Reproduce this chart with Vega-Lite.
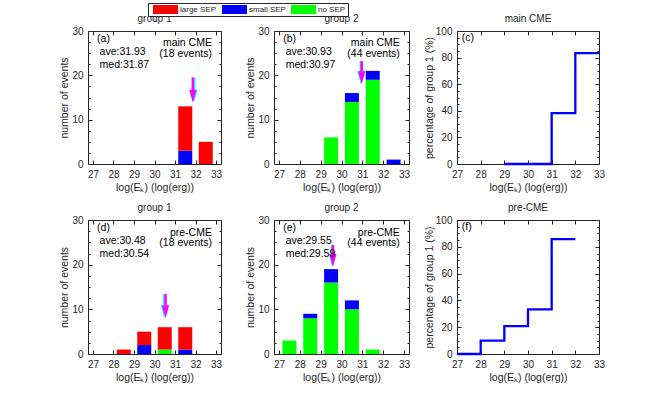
{
"$schema": "https://vega.github.io/schema/vega-lite/v6.json",
"padding": {"left": 59, "top": 2, "right": 5, "bottom": 5},
"background": "white",
"config": {
 "view": {"stroke": "#262626", "strokeWidth": 1},
 "axis": {"domain": false, "grid": false, "tickColor": "#262626", "tickWidth": 1, "labelColor": "#262626", "labelFont": "Liberation Sans", "labelFontSize": 10, "titleColor": "#262626", "titleFont": "Liberation Sans", "titleFontSize": 10.5, "titleFontWeight": "normal", "labelFlush": false, "labelOverlap": false},
 "title": {"font": "Liberation Sans", "fontSize": 10, "fontWeight": "normal", "color": "#262626", "offset": 2}
},
"datasets": {
 "sepRank": [
  {"sep":"no SEP","rank":1},
  {"sep":"small SEP","rank":2},
  {"sep":"large SEP","rank":3}
 ],
 "bars": [
  {"panel":"a","logEk":31.5,"sep":"small SEP","n":3},
  {"panel":"a","logEk":31.5,"sep":"large SEP","n":10},
  {"panel":"a","logEk":32.5,"sep":"large SEP","n":5},
  {"panel":"b","logEk":29.5,"sep":"no SEP","n":6},
  {"panel":"b","logEk":30.5,"sep":"no SEP","n":14},
  {"panel":"b","logEk":30.5,"sep":"small SEP","n":2},
  {"panel":"b","logEk":31.5,"sep":"no SEP","n":19},
  {"panel":"b","logEk":31.5,"sep":"small SEP","n":2},
  {"panel":"b","logEk":32.5,"sep":"small SEP","n":1},
  {"panel":"d","logEk":28.5,"sep":"large SEP","n":1},
  {"panel":"d","logEk":29.5,"sep":"small SEP","n":2},
  {"panel":"d","logEk":29.5,"sep":"large SEP","n":3},
  {"panel":"d","logEk":30.5,"sep":"no SEP","n":1},
  {"panel":"d","logEk":30.5,"sep":"large SEP","n":5},
  {"panel":"d","logEk":31.5,"sep":"small SEP","n":1},
  {"panel":"d","logEk":31.5,"sep":"large SEP","n":5},
  {"panel":"e","logEk":27.5,"sep":"no SEP","n":3},
  {"panel":"e","logEk":28.5,"sep":"no SEP","n":8},
  {"panel":"e","logEk":28.5,"sep":"small SEP","n":1},
  {"panel":"e","logEk":29.5,"sep":"no SEP","n":16},
  {"panel":"e","logEk":29.5,"sep":"small SEP","n":3},
  {"panel":"e","logEk":30.5,"sep":"no SEP","n":10},
  {"panel":"e","logEk":30.5,"sep":"small SEP","n":2},
  {"panel":"e","logEk":31.5,"sep":"no SEP","n":1}
 ],
 "arrows": [
  {"panel":"a","stat":"ave","x":31.93,"top":19.5,"tip":13.8},
  {"panel":"a","stat":"med","x":31.87,"top":19.5,"tip":13.8},
  {"panel":"b","stat":"ave","x":30.93,"top":23.2,"tip":18},
  {"panel":"b","stat":"med","x":30.97,"top":23.2,"tip":18},
  {"panel":"d","stat":"ave","x":30.48,"top":13.4,"tip":8},
  {"panel":"d","stat":"med","x":30.54,"top":13.4,"tip":8},
  {"panel":"e","stat":"ave","x":29.55,"top":24.4,"tip":19.5},
  {"panel":"e","stat":"med","x":29.59,"top":24.4,"tip":19.5}
 ],
 "notesL": [
  {"panel":"a","x":27.2,"y":28.3,"text":"(a)"},
  {"panel":"a","x":27.32,"y":25.2,"text":"ave:31.93"},
  {"panel":"a","x":27.32,"y":22.4,"text":"med:31.87"},
  {"panel":"b","x":27.2,"y":28.3,"text":"(b)"},
  {"panel":"b","x":27.32,"y":25.2,"text":"ave:30.93"},
  {"panel":"b","x":27.32,"y":22.4,"text":"med:30.97"},
  {"panel":"d","x":27.2,"y":28.3,"text":"(d)"},
  {"panel":"d","x":27.32,"y":25.2,"text":"ave:30.48"},
  {"panel":"d","x":27.32,"y":22.4,"text":"med:30.54"},
  {"panel":"e","x":27.2,"y":28.3,"text":"(e)"},
  {"panel":"e","x":27.32,"y":25.2,"text":"ave:29.55"},
  {"panel":"e","x":27.32,"y":22.4,"text":"med:29.59"},
  {"panel":"c","x":27.2,"y":94.5,"text":"(c)"},
  {"panel":"f","x":27.2,"y":94.5,"text":"(f)"}
 ],
 "notesR": [
  {"panel":"a","x":32.8,"y":27.2,"text":"main CME"},
  {"panel":"a","x":32.8,"y":24.8,"text":"(18 events)"},
  {"panel":"b","x":32.8,"y":27.2,"text":"main CME"},
  {"panel":"b","x":32.8,"y":24.8,"text":"(44 events)"},
  {"panel":"d","x":32.8,"y":27.2,"text":"pre-CME"},
  {"panel":"d","x":32.8,"y":24.8,"text":"(18 events)"},
  {"panel":"e","x":32.8,"y":27.2,"text":"pre-CME"},
  {"panel":"e","x":32.8,"y":24.8,"text":"(44 events)"}
 ],
 "pct": [
  {"panel":"c","logEk":29,"pct":0},
  {"panel":"c","logEk":30,"pct":0},
  {"panel":"c","logEk":31,"pct":38.2},
  {"panel":"c","logEk":32,"pct":83.3},
  {"panel":"c","logEk":33,"pct":83.3},
  {"panel":"f","logEk":27,"pct":0},
  {"panel":"f","logEk":28,"pct":10},
  {"panel":"f","logEk":29,"pct":20.8},
  {"panel":"f","logEk":30,"pct":33.3},
  {"panel":"f","logEk":31,"pct":85.7},
  {"panel":"f","logEk":32,"pct":85.7}
 ]
},
"concat": [
 {
  "width": 133, "height": 133, "title": {"text": "group 1"},
  "layer": [
   {"layer": [
    {"data": {"name": "bars"}, "transform": [{"filter": "datum.panel === 'a'"}, {"lookup": "sep", "from": {"data": {"name": "sepRank"}, "key": "sep", "fields": ["rank"]}}],
     "mark": {"type": "bar", "size": 14},
     "encoding": {
      "x": {"field": "logEk", "type": "quantitative", "scale": {"domain": [27,33], "nice": false, "zero": false}, "axis": {"orient": "bottom", "values": [27,28,29,30,31,32,33], "tickCount": 100, "format": "d", "tickSize": -4, "labelPadding": 9, "labelOverlap": false, "title": "log(E\u2096) (log(erg))", "titlePadding": 3}},
      "y": {"field": "n", "type": "quantitative", "stack": "zero", "scale": {"domain": [0,30], "nice": false}, "axis": {"orient": "left", "values": [0,2.5,5,7.5,10,12.5,15,17.5,20,22.5,25,27.5,30], "tickCount": 100, "format": "d", "tickSize": {"condition": {"test": "datum.value % 10 === 0", "value": -4}, "value": -2}, "labelExpr": "datum.value % 10 === 0 ? datum.label : ''", "labelPadding": 9, "labelOverlap": false, "title": "number of events", "titlePadding": 2}},
      "order": {"field": "rank", "type": "quantitative", "sort": "ascending"},
      "color": {"field": "sep", "type": "nominal", "sort": ["large SEP","small SEP","no SEP"], "scale": {"domain": ["large SEP","small SEP","no SEP"], "range": ["#ff0000","#0000ff","#00ff00"]},
       "legend": {"title": null, "orient": "none", "legendX": 60, "legendY": -28, "direction": "horizontal", "symbolType": "M-0.333,-1H5.222V1H-0.333Z", "symbolSize": 81, "symbolStrokeWidth": 0, "symbolOpacity": 1, "labelFont": "Liberation Sans", "labelFontSize": 8, "labelColor": "#262626", "labelOffset": 21, "columnPadding": 2, "padding": 2, "strokeColor": "#262626", "fillColor": "#ffffff"}}
     }},
    {"data": {"name": "arrows"}, "transform": [{"filter": "datum.panel === 'a'"}],
     "mark": {"type": "rule", "strokeWidth": 2.5, "y2Offset": -8},
     "encoding": {
      "x": {"field": "x", "type": "quantitative", "scale": {"domain": [27,33], "nice": false, "zero": false}},
      "y": {"field": "top", "type": "quantitative", "scale": {"domain": [0,30], "nice": false}},
      "y2": {"field": "tip"},
      "stroke": {"field": "stat", "type": "nominal", "scale": {"domain": ["ave","med"], "range": ["#00ffff","#ff00ff"]}, "legend": null}
     }},
    {"data": {"name": "arrows"}, "transform": [{"filter": "datum.panel === 'a'"}],
     "mark": {"type": "point", "shape": "M-0.55,-2H0.55L0,0Z", "size": 169, "filled": true, "opacity": 1, "strokeWidth": 0},
     "encoding": {
      "x": {"field": "x", "type": "quantitative", "scale": {"domain": [27,33], "nice": false, "zero": false}},
      "y": {"field": "tip", "type": "quantitative", "scale": {"domain": [0,30], "nice": false}},
      "fill": {"field": "stat", "type": "nominal", "scale": {"domain": ["ave","med"], "range": ["#00ffff","#ff00ff"]}, "legend": null}
     }},
    {"data": {"name": "notesL"}, "transform": [{"filter": "datum.panel === 'a'"}],
     "mark": {"type": "text", "align": "left", "baseline": "middle", "font": "Liberation Sans", "fontSize": 10.5, "color": "#000000"},
     "encoding": {
      "x": {"field": "x", "type": "quantitative", "scale": {"domain": [27,33], "nice": false, "zero": false}},
      "y": {"field": "y", "type": "quantitative", "scale": {"domain": [0,30], "nice": false}},
      "text": {"field": "text"}
     }},
    {"data": {"name": "notesR"}, "transform": [{"filter": "datum.panel === 'a'"}],
     "mark": {"type": "text", "align": "right", "baseline": "middle", "font": "Liberation Sans", "fontSize": 10.5, "color": "#000000"},
     "encoding": {
      "x": {"field": "x", "type": "quantitative", "scale": {"domain": [27,33], "nice": false, "zero": false}},
      "y": {"field": "y", "type": "quantitative", "scale": {"domain": [0,30], "nice": false}},
      "text": {"field": "text"}
     }}
   ]},
   {"data": {"name": "bars"}, "transform": [{"filter": "datum.panel === 'a'"}],
    "mark": {"type": "point", "opacity": 0},
    "encoding": {
     "x": {"field": "logEk", "type": "quantitative", "scale": {"domain": [27,33], "nice": false, "zero": false}, "axis": {"orient": "top", "values": [27,28,29,30,31,32,33], "tickCount": 100, "tickSize": -4, "labels": false, "title": null}},
     "y": {"field": "n", "type": "quantitative", "scale": {"domain": [0,30], "nice": false}, "axis": {"orient": "right", "values": [0,2.5,5,7.5,10,12.5,15,17.5,20,22.5,25,27.5,30], "tickCount": 100, "tickSize": {"condition": {"test": "datum.value % 10 === 0", "value": -4}, "value": -2}, "labels": false, "title": null}}
    }}
  ],
  "resolve": {"axis": {"x": "independent", "y": "independent"}}
 },
 {"width": 53, "height": 10, "data": {"values": [{"s": 0}]}, "mark": {"type": "point", "opacity": 0}, "encoding": {}, "view": {"stroke": null}},
 {
  "width": 135, "height": 133, "title": {"text": "group 2"},
  "layer": [
   {"layer": [
    {"data": {"name": "bars"}, "transform": [{"filter": "datum.panel === 'b'"}, {"lookup": "sep", "from": {"data": {"name": "sepRank"}, "key": "sep", "fields": ["rank"]}}],
     "mark": {"type": "bar", "size": 14},
     "encoding": {
      "x": {"field": "logEk", "type": "quantitative", "scale": {"domain": [27,33], "nice": false, "zero": false}, "axis": {"orient": "bottom", "values": [27,28,29,30,31,32,33], "tickCount": 100, "format": "d", "tickSize": -4, "labelPadding": 9, "labelOverlap": false, "title": "log(E\u2096) (log(erg))", "titlePadding": 3}},
      "y": {"field": "n", "type": "quantitative", "stack": "zero", "scale": {"domain": [0,30], "nice": false}, "axis": {"orient": "left", "values": [0,2.5,5,7.5,10,12.5,15,17.5,20,22.5,25,27.5,30], "tickCount": 100, "format": "d", "tickSize": {"condition": {"test": "datum.value % 10 === 0", "value": -4}, "value": -2}, "labelExpr": "datum.value % 10 === 0 ? datum.label : ''", "labelPadding": 9, "labelOverlap": false, "title": "number of events", "titlePadding": 2}},
      "order": {"field": "rank", "type": "quantitative", "sort": "ascending"},
      "color": {"field": "sep", "type": "nominal", "sort": ["large SEP","small SEP","no SEP"], "scale": {"domain": ["large SEP","small SEP","no SEP"], "range": ["#ff0000","#0000ff","#00ff00"]},
       "legend": {"title": null, "orient": "none", "legendX": 60, "legendY": -28, "direction": "horizontal", "symbolType": "M-0.333,-1H5.222V1H-0.333Z", "symbolSize": 81, "symbolStrokeWidth": 0, "symbolOpacity": 1, "labelFont": "Liberation Sans", "labelFontSize": 8, "labelColor": "#262626", "labelOffset": 21, "columnPadding": 2, "padding": 2, "strokeColor": "#262626", "fillColor": "#ffffff"}}
     }},
    {"data": {"name": "arrows"}, "transform": [{"filter": "datum.panel === 'b'"}],
     "mark": {"type": "rule", "strokeWidth": 2.5, "y2Offset": -8},
     "encoding": {
      "x": {"field": "x", "type": "quantitative", "scale": {"domain": [27,33], "nice": false, "zero": false}},
      "y": {"field": "top", "type": "quantitative", "scale": {"domain": [0,30], "nice": false}},
      "y2": {"field": "tip"},
      "stroke": {"field": "stat", "type": "nominal", "scale": {"domain": ["ave","med"], "range": ["#00ffff","#ff00ff"]}, "legend": null}
     }},
    {"data": {"name": "arrows"}, "transform": [{"filter": "datum.panel === 'b'"}],
     "mark": {"type": "point", "shape": "M-0.55,-2H0.55L0,0Z", "size": 169, "filled": true, "opacity": 1, "strokeWidth": 0},
     "encoding": {
      "x": {"field": "x", "type": "quantitative", "scale": {"domain": [27,33], "nice": false, "zero": false}},
      "y": {"field": "tip", "type": "quantitative", "scale": {"domain": [0,30], "nice": false}},
      "fill": {"field": "stat", "type": "nominal", "scale": {"domain": ["ave","med"], "range": ["#00ffff","#ff00ff"]}, "legend": null}
     }},
    {"data": {"name": "notesL"}, "transform": [{"filter": "datum.panel === 'b'"}],
     "mark": {"type": "text", "align": "left", "baseline": "middle", "font": "Liberation Sans", "fontSize": 10.5, "color": "#000000"},
     "encoding": {
      "x": {"field": "x", "type": "quantitative", "scale": {"domain": [27,33], "nice": false, "zero": false}},
      "y": {"field": "y", "type": "quantitative", "scale": {"domain": [0,30], "nice": false}},
      "text": {"field": "text"}
     }},
    {"data": {"name": "notesR"}, "transform": [{"filter": "datum.panel === 'b'"}],
     "mark": {"type": "text", "align": "right", "baseline": "middle", "font": "Liberation Sans", "fontSize": 10.5, "color": "#000000"},
     "encoding": {
      "x": {"field": "x", "type": "quantitative", "scale": {"domain": [27,33], "nice": false, "zero": false}},
      "y": {"field": "y", "type": "quantitative", "scale": {"domain": [0,30], "nice": false}},
      "text": {"field": "text"}
     }}
   ]},
   {"data": {"name": "bars"}, "transform": [{"filter": "datum.panel === 'b'"}],
    "mark": {"type": "point", "opacity": 0},
    "encoding": {
     "x": {"field": "logEk", "type": "quantitative", "scale": {"domain": [27,33], "nice": false, "zero": false}, "axis": {"orient": "top", "values": [27,28,29,30,31,32,33], "tickCount": 100, "tickSize": -4, "labels": false, "title": null}},
     "y": {"field": "n", "type": "quantitative", "scale": {"domain": [0,30], "nice": false}, "axis": {"orient": "right", "values": [0,2.5,5,7.5,10,12.5,15,17.5,20,22.5,25,27.5,30], "tickCount": 100, "tickSize": {"condition": {"test": "datum.value % 10 === 0", "value": -4}, "value": -2}, "labels": false, "title": null}}
    }}
  ],
  "resolve": {"axis": {"x": "independent", "y": "independent"}}
 },
 {"width": 48, "height": 10, "data": {"values": [{"s": 0}]}, "mark": {"type": "point", "opacity": 0}, "encoding": {}, "view": {"stroke": null}},
 {
  "width": 142, "height": 133, "title": {"text": "main CME"},
  "layer": [
   {"layer": [
    {"data": {"name": "pct"}, "transform": [{"filter": "datum.panel === 'c'"}],
     "mark": {"type": "line", "interpolate": "step-after", "color": "#0000ff", "strokeWidth": 2.3},
     "encoding": {
      "x": {"field": "logEk", "type": "quantitative", "scale": {"domain": [27,33], "nice": false, "zero": false}, "axis": {"orient": "bottom", "values": [27,28,29,30,31,32,33], "tickCount": 100, "format": "d", "tickSize": -4, "labelPadding": 9, "labelOverlap": false, "title": "log(E\u2096) (log(erg))", "titlePadding": 3}},
      "y": {"field": "pct", "type": "quantitative", "scale": {"domain": [0,100], "nice": false}, "axis": {"orient": "left", "values": [0,5,10,15,20,25,30,35,40,45,50,55,60,65,70,75,80,85,90,95,100], "tickCount": 100, "format": "d", "tickSize": {"condition": {"test": "datum.value % 20 === 0", "value": -4}, "value": -2}, "labelExpr": "datum.value % 20 === 0 ? datum.label : ''", "labelPadding": 9, "labelOverlap": false, "title": "percentage of group 1 (%)", "titlePadding": 1}}
     }},
    {"data": {"name": "notesL"}, "transform": [{"filter": "datum.panel === 'c'"}],
     "mark": {"type": "text", "align": "left", "baseline": "middle", "font": "Liberation Sans", "fontSize": 10.5, "color": "#000000"},
     "encoding": {
      "x": {"field": "x", "type": "quantitative", "scale": {"domain": [27,33], "nice": false, "zero": false}},
      "y": {"field": "y", "type": "quantitative", "scale": {"domain": [0,100], "nice": false}},
      "text": {"field": "text"}
     }}
   ]},
   {"data": {"name": "pct"}, "transform": [{"filter": "datum.panel === 'c'"}],
    "mark": {"type": "point", "opacity": 0},
    "encoding": {
     "x": {"field": "logEk", "type": "quantitative", "scale": {"domain": [27,33], "nice": false, "zero": false}, "axis": {"orient": "top", "values": [27,28,29,30,31,32,33], "tickCount": 100, "tickSize": -4, "labels": false, "title": null}},
     "y": {"field": "pct", "type": "quantitative", "scale": {"domain": [0,100], "nice": false}, "axis": {"orient": "right", "values": [0,5,10,15,20,25,30,35,40,45,50,55,60,65,70,75,80,85,90,95,100], "tickCount": 100, "tickSize": {"condition": {"test": "datum.value % 20 === 0", "value": -4}, "value": -2}, "labels": false, "title": null}}
    }}
  ],
  "resolve": {"axis": {"x": "independent", "y": "independent"}}
 },
 {
  "width": 133, "height": 134, "title": {"text": "group 1"},
  "layer": [
   {"layer": [
    {"data": {"name": "bars"}, "transform": [{"filter": "datum.panel === 'd'"}, {"lookup": "sep", "from": {"data": {"name": "sepRank"}, "key": "sep", "fields": ["rank"]}}],
     "mark": {"type": "bar", "size": 14},
     "encoding": {
      "x": {"field": "logEk", "type": "quantitative", "scale": {"domain": [27,33], "nice": false, "zero": false}, "axis": {"orient": "bottom", "values": [27,28,29,30,31,32,33], "tickCount": 100, "format": "d", "tickSize": -4, "labelPadding": 9, "labelOverlap": false, "title": "log(E\u2096) (log(erg))", "titlePadding": 3}},
      "y": {"field": "n", "type": "quantitative", "stack": "zero", "scale": {"domain": [0,30], "nice": false}, "axis": {"orient": "left", "values": [0,2.5,5,7.5,10,12.5,15,17.5,20,22.5,25,27.5,30], "tickCount": 100, "format": "d", "tickSize": {"condition": {"test": "datum.value % 10 === 0", "value": -4}, "value": -2}, "labelExpr": "datum.value % 10 === 0 ? datum.label : ''", "labelPadding": 9, "labelOverlap": false, "title": "number of events", "titlePadding": 2}},
      "order": {"field": "rank", "type": "quantitative", "sort": "ascending"},
      "color": {"field": "sep", "type": "nominal", "sort": ["large SEP","small SEP","no SEP"], "scale": {"domain": ["large SEP","small SEP","no SEP"], "range": ["#ff0000","#0000ff","#00ff00"]},
       "legend": {"title": null, "orient": "none", "legendX": 60, "legendY": -28, "direction": "horizontal", "symbolType": "M-0.333,-1H5.222V1H-0.333Z", "symbolSize": 81, "symbolStrokeWidth": 0, "symbolOpacity": 1, "labelFont": "Liberation Sans", "labelFontSize": 8, "labelColor": "#262626", "labelOffset": 21, "columnPadding": 2, "padding": 2, "strokeColor": "#262626", "fillColor": "#ffffff"}}
     }},
    {"data": {"name": "arrows"}, "transform": [{"filter": "datum.panel === 'd'"}],
     "mark": {"type": "rule", "strokeWidth": 2.5, "y2Offset": -8},
     "encoding": {
      "x": {"field": "x", "type": "quantitative", "scale": {"domain": [27,33], "nice": false, "zero": false}},
      "y": {"field": "top", "type": "quantitative", "scale": {"domain": [0,30], "nice": false}},
      "y2": {"field": "tip"},
      "stroke": {"field": "stat", "type": "nominal", "scale": {"domain": ["ave","med"], "range": ["#00ffff","#ff00ff"]}, "legend": null}
     }},
    {"data": {"name": "arrows"}, "transform": [{"filter": "datum.panel === 'd'"}],
     "mark": {"type": "point", "shape": "M-0.55,-2H0.55L0,0Z", "size": 169, "filled": true, "opacity": 1, "strokeWidth": 0},
     "encoding": {
      "x": {"field": "x", "type": "quantitative", "scale": {"domain": [27,33], "nice": false, "zero": false}},
      "y": {"field": "tip", "type": "quantitative", "scale": {"domain": [0,30], "nice": false}},
      "fill": {"field": "stat", "type": "nominal", "scale": {"domain": ["ave","med"], "range": ["#00ffff","#ff00ff"]}, "legend": null}
     }},
    {"data": {"name": "notesL"}, "transform": [{"filter": "datum.panel === 'd'"}],
     "mark": {"type": "text", "align": "left", "baseline": "middle", "font": "Liberation Sans", "fontSize": 10.5, "color": "#000000"},
     "encoding": {
      "x": {"field": "x", "type": "quantitative", "scale": {"domain": [27,33], "nice": false, "zero": false}},
      "y": {"field": "y", "type": "quantitative", "scale": {"domain": [0,30], "nice": false}},
      "text": {"field": "text"}
     }},
    {"data": {"name": "notesR"}, "transform": [{"filter": "datum.panel === 'd'"}],
     "mark": {"type": "text", "align": "right", "baseline": "middle", "font": "Liberation Sans", "fontSize": 10.5, "color": "#000000"},
     "encoding": {
      "x": {"field": "x", "type": "quantitative", "scale": {"domain": [27,33], "nice": false, "zero": false}},
      "y": {"field": "y", "type": "quantitative", "scale": {"domain": [0,30], "nice": false}},
      "text": {"field": "text"}
     }}
   ]},
   {"data": {"name": "bars"}, "transform": [{"filter": "datum.panel === 'd'"}],
    "mark": {"type": "point", "opacity": 0},
    "encoding": {
     "x": {"field": "logEk", "type": "quantitative", "scale": {"domain": [27,33], "nice": false, "zero": false}, "axis": {"orient": "top", "values": [27,28,29,30,31,32,33], "tickCount": 100, "tickSize": -4, "labels": false, "title": null}},
     "y": {"field": "n", "type": "quantitative", "scale": {"domain": [0,30], "nice": false}, "axis": {"orient": "right", "values": [0,2.5,5,7.5,10,12.5,15,17.5,20,22.5,25,27.5,30], "tickCount": 100, "tickSize": {"condition": {"test": "datum.value % 10 === 0", "value": -4}, "value": -2}, "labels": false, "title": null}}
    }}
  ],
  "resolve": {"axis": {"x": "independent", "y": "independent"}}
 },
 {"width": 53, "height": 10, "data": {"values": [{"s": 0}]}, "mark": {"type": "point", "opacity": 0}, "encoding": {}, "view": {"stroke": null}},
 {
  "width": 135, "height": 134, "title": {"text": "group 2"},
  "layer": [
   {"layer": [
    {"data": {"name": "bars"}, "transform": [{"filter": "datum.panel === 'e'"}, {"lookup": "sep", "from": {"data": {"name": "sepRank"}, "key": "sep", "fields": ["rank"]}}],
     "mark": {"type": "bar", "size": 14},
     "encoding": {
      "x": {"field": "logEk", "type": "quantitative", "scale": {"domain": [27,33], "nice": false, "zero": false}, "axis": {"orient": "bottom", "values": [27,28,29,30,31,32,33], "tickCount": 100, "format": "d", "tickSize": -4, "labelPadding": 9, "labelOverlap": false, "title": "log(E\u2096) (log(erg))", "titlePadding": 3}},
      "y": {"field": "n", "type": "quantitative", "stack": "zero", "scale": {"domain": [0,30], "nice": false}, "axis": {"orient": "left", "values": [0,2.5,5,7.5,10,12.5,15,17.5,20,22.5,25,27.5,30], "tickCount": 100, "format": "d", "tickSize": {"condition": {"test": "datum.value % 10 === 0", "value": -4}, "value": -2}, "labelExpr": "datum.value % 10 === 0 ? datum.label : ''", "labelPadding": 9, "labelOverlap": false, "title": "number of events", "titlePadding": 2}},
      "order": {"field": "rank", "type": "quantitative", "sort": "ascending"},
      "color": {"field": "sep", "type": "nominal", "sort": ["large SEP","small SEP","no SEP"], "scale": {"domain": ["large SEP","small SEP","no SEP"], "range": ["#ff0000","#0000ff","#00ff00"]},
       "legend": {"title": null, "orient": "none", "legendX": 60, "legendY": -28, "direction": "horizontal", "symbolType": "M-0.333,-1H5.222V1H-0.333Z", "symbolSize": 81, "symbolStrokeWidth": 0, "symbolOpacity": 1, "labelFont": "Liberation Sans", "labelFontSize": 8, "labelColor": "#262626", "labelOffset": 21, "columnPadding": 2, "padding": 2, "strokeColor": "#262626", "fillColor": "#ffffff"}}
     }},
    {"data": {"name": "arrows"}, "transform": [{"filter": "datum.panel === 'e'"}],
     "mark": {"type": "rule", "strokeWidth": 2.5, "y2Offset": -8},
     "encoding": {
      "x": {"field": "x", "type": "quantitative", "scale": {"domain": [27,33], "nice": false, "zero": false}},
      "y": {"field": "top", "type": "quantitative", "scale": {"domain": [0,30], "nice": false}},
      "y2": {"field": "tip"},
      "stroke": {"field": "stat", "type": "nominal", "scale": {"domain": ["ave","med"], "range": ["#00ffff","#ff00ff"]}, "legend": null}
     }},
    {"data": {"name": "arrows"}, "transform": [{"filter": "datum.panel === 'e'"}],
     "mark": {"type": "point", "shape": "M-0.55,-2H0.55L0,0Z", "size": 169, "filled": true, "opacity": 1, "strokeWidth": 0},
     "encoding": {
      "x": {"field": "x", "type": "quantitative", "scale": {"domain": [27,33], "nice": false, "zero": false}},
      "y": {"field": "tip", "type": "quantitative", "scale": {"domain": [0,30], "nice": false}},
      "fill": {"field": "stat", "type": "nominal", "scale": {"domain": ["ave","med"], "range": ["#00ffff","#ff00ff"]}, "legend": null}
     }},
    {"data": {"name": "notesL"}, "transform": [{"filter": "datum.panel === 'e'"}],
     "mark": {"type": "text", "align": "left", "baseline": "middle", "font": "Liberation Sans", "fontSize": 10.5, "color": "#000000"},
     "encoding": {
      "x": {"field": "x", "type": "quantitative", "scale": {"domain": [27,33], "nice": false, "zero": false}},
      "y": {"field": "y", "type": "quantitative", "scale": {"domain": [0,30], "nice": false}},
      "text": {"field": "text"}
     }},
    {"data": {"name": "notesR"}, "transform": [{"filter": "datum.panel === 'e'"}],
     "mark": {"type": "text", "align": "right", "baseline": "middle", "font": "Liberation Sans", "fontSize": 10.5, "color": "#000000"},
     "encoding": {
      "x": {"field": "x", "type": "quantitative", "scale": {"domain": [27,33], "nice": false, "zero": false}},
      "y": {"field": "y", "type": "quantitative", "scale": {"domain": [0,30], "nice": false}},
      "text": {"field": "text"}
     }}
   ]},
   {"data": {"name": "bars"}, "transform": [{"filter": "datum.panel === 'e'"}],
    "mark": {"type": "point", "opacity": 0},
    "encoding": {
     "x": {"field": "logEk", "type": "quantitative", "scale": {"domain": [27,33], "nice": false, "zero": false}, "axis": {"orient": "top", "values": [27,28,29,30,31,32,33], "tickCount": 100, "tickSize": -4, "labels": false, "title": null}},
     "y": {"field": "n", "type": "quantitative", "scale": {"domain": [0,30], "nice": false}, "axis": {"orient": "right", "values": [0,2.5,5,7.5,10,12.5,15,17.5,20,22.5,25,27.5,30], "tickCount": 100, "tickSize": {"condition": {"test": "datum.value % 10 === 0", "value": -4}, "value": -2}, "labels": false, "title": null}}
    }}
  ],
  "resolve": {"axis": {"x": "independent", "y": "independent"}}
 },
 {"width": 48, "height": 10, "data": {"values": [{"s": 0}]}, "mark": {"type": "point", "opacity": 0}, "encoding": {}, "view": {"stroke": null}},
 {
  "width": 142, "height": 134, "title": {"text": "pre-CME"},
  "layer": [
   {"layer": [
    {"data": {"name": "pct"}, "transform": [{"filter": "datum.panel === 'f'"}],
     "mark": {"type": "line", "interpolate": "step-after", "color": "#0000ff", "strokeWidth": 2.3},
     "encoding": {
      "x": {"field": "logEk", "type": "quantitative", "scale": {"domain": [27,33], "nice": false, "zero": false}, "axis": {"orient": "bottom", "values": [27,28,29,30,31,32,33], "tickCount": 100, "format": "d", "tickSize": -4, "labelPadding": 9, "labelOverlap": false, "title": "log(E\u2096) (log(erg))", "titlePadding": 3}},
      "y": {"field": "pct", "type": "quantitative", "scale": {"domain": [0,100], "nice": false}, "axis": {"orient": "left", "values": [0,5,10,15,20,25,30,35,40,45,50,55,60,65,70,75,80,85,90,95,100], "tickCount": 100, "format": "d", "tickSize": {"condition": {"test": "datum.value % 20 === 0", "value": -4}, "value": -2}, "labelExpr": "datum.value % 20 === 0 ? datum.label : ''", "labelPadding": 9, "labelOverlap": false, "title": "percentage of group 1 (%)", "titlePadding": 1}}
     }},
    {"data": {"name": "notesL"}, "transform": [{"filter": "datum.panel === 'f'"}],
     "mark": {"type": "text", "align": "left", "baseline": "middle", "font": "Liberation Sans", "fontSize": 10.5, "color": "#000000"},
     "encoding": {
      "x": {"field": "x", "type": "quantitative", "scale": {"domain": [27,33], "nice": false, "zero": false}},
      "y": {"field": "y", "type": "quantitative", "scale": {"domain": [0,100], "nice": false}},
      "text": {"field": "text"}
     }}
   ]},
   {"data": {"name": "pct"}, "transform": [{"filter": "datum.panel === 'f'"}],
    "mark": {"type": "point", "opacity": 0},
    "encoding": {
     "x": {"field": "logEk", "type": "quantitative", "scale": {"domain": [27,33], "nice": false, "zero": false}, "axis": {"orient": "top", "values": [27,28,29,30,31,32,33], "tickCount": 100, "tickSize": -4, "labels": false, "title": null}},
     "y": {"field": "pct", "type": "quantitative", "scale": {"domain": [0,100], "nice": false}, "axis": {"orient": "right", "values": [0,5,10,15,20,25,30,35,40,45,50,55,60,65,70,75,80,85,90,95,100], "tickCount": 100, "tickSize": {"condition": {"test": "datum.value % 20 === 0", "value": -4}, "value": -2}, "labels": false, "title": null}}
    }}
  ],
  "resolve": {"axis": {"x": "independent", "y": "independent"}}
 }
],
"columns": 5,
"spacing": {"row": 56, "column": 0},
"bounds": "flush",
"align": "each"
}
